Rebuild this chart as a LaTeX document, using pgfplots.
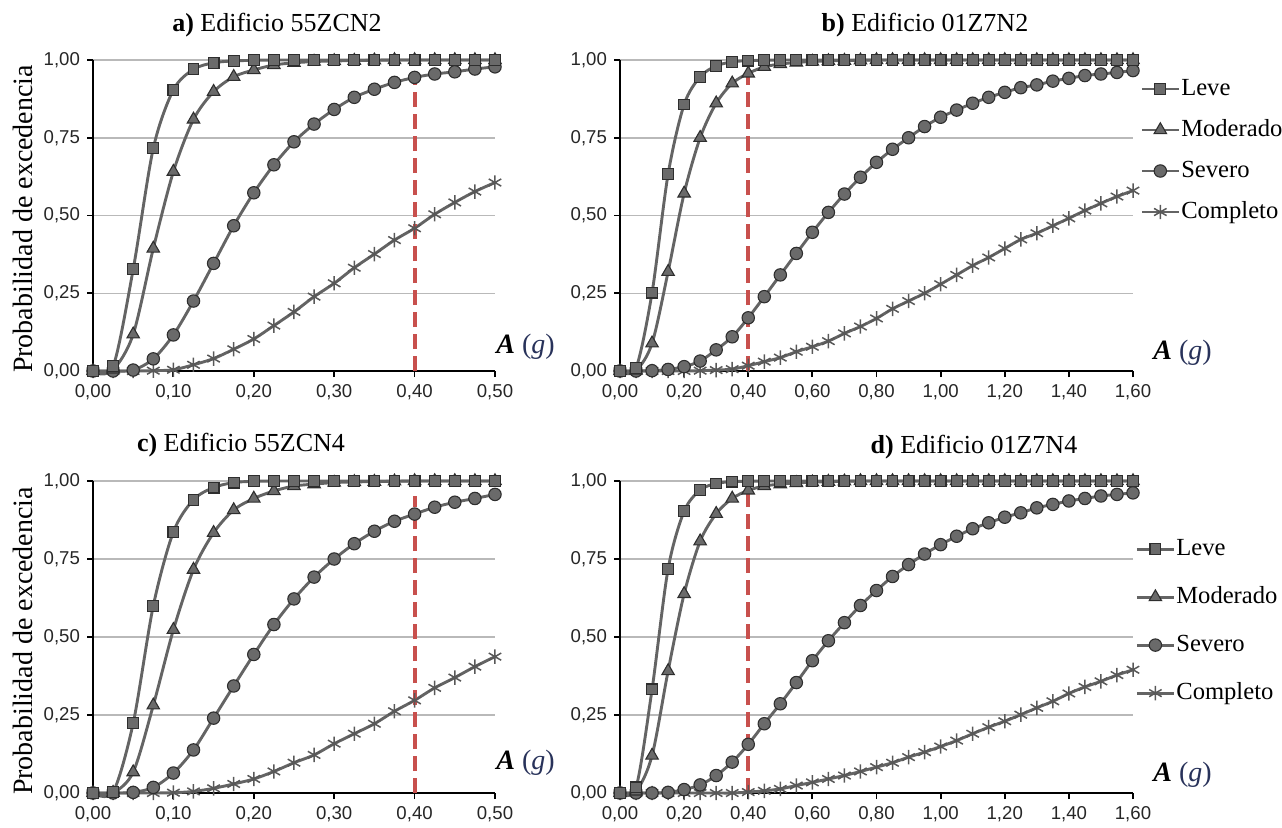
\documentclass[border=0pt]{standalone}
\usepackage{fontspec}
\setmainfont{Liberation Serif}
\newfontfamily\tickfont{Liberation Sans}
\usepackage{pgfplots}
\usepackage{pgfplotstable}
\pgfplotsset{compat=1.18}

\definecolor{linecol}{HTML}{646464}
\definecolor{markfill}{HTML}{6A6A6A}
\definecolor{markdraw}{HTML}{2E2E2E}
\definecolor{redc}{HTML}{C8504D}
\definecolor{gcol}{RGB}{40,50,90}

% Panel a
\pgfplotstableread{
x leve mod sev comp
0 0 0 0 0
0.025 0.015 0.005 0 0
0.05 0.327 0.118 0.003 0
0.075 0.716 0.394 0.039 0.001
0.1 0.904 0.641 0.116 0.004
0.125 0.970 0.809 0.225 0.020
0.15 0.991 0.898 0.346 0.040
0.175 0.997 0.946 0.467 0.070
0.2 0.999 0.968 0.573 0.103
0.225 1 0.984 0.663 0.146
0.25 1 0.991 0.737 0.190
0.275 1 0.995 0.794 0.239
0.3 1 0.997 0.841 0.282
0.325 1 0.998 0.880 0.332
0.35 1 0.999 0.906 0.376
0.375 1 1 0.928 0.421
0.4 1 1 0.944 0.459
0.425 1 1 0.955 0.504
0.45 1 1 0.962 0.542
0.475 1 1 0.971 0.577
0.5 1 1 0.978 0.606
}\tabA

% Panel c
\pgfplotstableread{
x leve mod sev comp
0 0 0 0 0
0.025 0.003 0.001 0 0
0.05 0.224 0.067 0.002 0
0.075 0.600 0.281 0.018 0
0.1 0.837 0.523 0.064 0.001
0.125 0.940 0.716 0.138 0.005
0.15 0.979 0.834 0.240 0.015
0.175 0.995 0.907 0.343 0.029
0.2 0.999 0.944 0.444 0.045
0.225 1 0.968 0.540 0.069
0.25 1 0.984 0.622 0.097
0.275 1 0.990 0.692 0.122
0.3 1 0.995 0.750 0.158
0.325 1 0.997 0.799 0.190
0.35 1 0.998 0.839 0.222
0.375 1 0.999 0.871 0.262
0.4 1 1 0.894 0.297
0.425 1 1 0.916 0.337
0.45 1 1 0.932 0.370
0.475 1 1 0.944 0.405
0.5 1 1 0.957 0.437
}\tabC

% Panel b
\pgfplotstableread{
x leve mod sev comp
0 0 0 0 0
0.05 0.010 0.002 0 0
0.1 0.252 0.089 0.001 0
0.15 0.633 0.319 0.005 0
0.2 0.857 0.571 0.014 0
0.25 0.946 0.750 0.032 0.001
0.3 0.981 0.861 0.068 0.003
0.35 0.994 0.925 0.110 0.006
0.4 0.998 0.957 0.171 0.017
0.45 0.999 0.978 0.239 0.030
0.5 1 0.987 0.309 0.043
0.55 1 0.992 0.378 0.062
0.6 1 0.995 0.446 0.078
0.65 1 0.997 0.510 0.096
0.7 1 0.998 0.569 0.121
0.75 1 0.999 0.623 0.143
0.8 1 1 0.671 0.169
0.85 1 1 0.713 0.200
0.9 1 1 0.750 0.225
0.95 1 1 0.786 0.250
1.0 1 1 0.816 0.279
1.05 1 1 0.839 0.309
1.1 1 1 0.861 0.339
1.15 1 1 0.880 0.365
1.2 1 1 0.896 0.394
1.25 1 1 0.911 0.423
1.3 1 1 0.920 0.443
1.35 1 1 0.932 0.467
1.4 1 1 0.941 0.491
1.45 1 1 0.950 0.516
1.5 1 1 0.955 0.539
1.55 1 1 0.960 0.561
1.6 1 1 0.966 0.580
}\tabB

% Panel d
\pgfplotstableread{
x leve mod sev comp
0 0 0 0 0
0.05 0.018 0.005 0 0
0.1 0.332 0.120 0 0
0.15 0.718 0.391 0.002 0
0.2 0.903 0.638 0.011 0
0.25 0.971 0.807 0.026 0
0.3 0.992 0.895 0.056 0
0.35 0.998 0.944 0.099 0
0.4 0.999 0.970 0.156 0.003
0.45 1 0.984 0.222 0.007
0.5 1 0.990 0.286 0.013
0.55 1 0.994 0.354 0.024
0.6 1 0.996 0.424 0.034
0.65 1 0.998 0.488 0.045
0.7 1 0.999 0.546 0.056
0.75 1 1 0.601 0.069
0.8 1 1 0.649 0.083
0.85 1 1 0.694 0.097
0.9 1 1 0.732 0.115
0.95 1 1 0.766 0.131
1.0 1 1 0.796 0.149
1.05 1 1 0.823 0.168
1.1 1 1 0.847 0.190
1.15 1 1 0.866 0.211
1.2 1 1 0.884 0.230
1.25 1 1 0.898 0.251
1.3 1 1 0.914 0.273
1.35 1 1 0.925 0.294
1.4 1 1 0.936 0.319
1.45 1 1 0.944 0.340
1.5 1 1 0.952 0.358
1.55 1 1 0.957 0.378
1.6 1 1 0.962 0.395
}\tabD

\pgfplotsset{
  fragil/.style={
    scale only axis, anchor=south west,
    xmin=0, ymin=0, ymax=1,
    axis x line*=bottom, axis y line*=left,
    axis line style={black, line width=0.9pt},
    ytick={0,0.25,0.5,0.75,1},
    ymajorgrids, grid style={gray!55, line width=0.75pt},
    tick style={black, line width=0.9pt},
    tick align=outside, major tick length=3pt,
    clip=false,
    ticklabel style={font=\tickfont\fontsize{9.3}{10}\selectfont, text=black!85},
    /pgf/number format/fixed,
    /pgf/number format/fixed zerofill,
    /pgf/number format/precision=2,
    /pgf/number format/use comma,
    /pgf/number format/assume math mode=true,
    legend image code/.code={\draw[mark repeat=2,mark phase=2] plot coordinates {(0pt,0pt)(9.25pt,0pt)(18.5pt,0pt)};},
  },
  base/.style={smooth, color=linecol, line width=1.45pt, mark options={solid, fill=markfill, draw=markdraw, line width=0.55pt}},
  leve/.style={base, mark=square*, mark size=2.7pt},
  mode/.style={base, mark=triangle*, mark size=3.6pt},
  seve/.style={base, mark=*, mark size=3.1pt},
  comp/.style={base, mark=asterisk, mark size=3.6pt, mark options={solid, draw=markdraw!80, line width=0.75pt}},
  redl/.style={forget plot, color=redc, line width=2pt, dash pattern=on 7.5pt off 3.5pt},
  leg/.style={legend style={at={(#1)}, anchor=west, draw=none, fill=none, inner sep=0pt,
      font=\fontsize{12.3}{12}\selectfont, legend cell align=left,
      nodes={inner sep=0.5pt, text height=8pt, text depth=2pt, anchor=west}}},
}

\begin{document}
\begin{tikzpicture}
\useasboundingbox (0,0) rectangle (641pt,413.5pt);

% a
\begin{axis}[fragil, at={(46.5pt,228pt)}, width=201pt, height=155.5pt,
  xmax=0.5, xtick={0,0.1,0.2,0.3,0.4,0.5}]
\addplot[comp] table[x=x,y=comp] {\tabA};
\addplot[seve] table[x=x,y=sev] {\tabA};
\addplot[mode] table[x=x,y=mod] {\tabA};
\addplot[leve] table[x=x,y=leve] {\tabA};
\addplot[redl] coordinates {(0.4,0) (0.4,0.945)};
\end{axis}

% b
\begin{axis}[fragil, at={(310pt,228pt)}, width=256.5pt, height=155.5pt,
  xmax=1.6, xtick={0,0.2,0.4,0.6,0.8,1.0,1.2,1.4,1.6},
  leg={1.0136,0.709}, legend style={row sep=9.5pt}, reverse legend]
\addplot[comp] table[x=x,y=comp] {\tabB};
\addplot[seve] table[x=x,y=sev] {\tabB};
\addplot[mode] table[x=x,y=mod] {\tabB};
\addplot[leve] table[x=x,y=leve] {\tabB};
\addplot[redl] coordinates {(0.4,0) (0.4,0.99)};
\legend{Completo,Severo,Moderado,Leve}
\end{axis}

% c
\begin{axis}[fragil, at={(46.5pt,17pt)}, width=201pt, height=156pt,
  xmax=0.5, xtick={0,0.1,0.2,0.3,0.4,0.5}]
\addplot[comp] table[x=x,y=comp] {\tabC};
\addplot[seve] table[x=x,y=sev] {\tabC};
\addplot[mode] table[x=x,y=mod] {\tabC};
\addplot[leve] table[x=x,y=leve] {\tabC};
\addplot[redl] coordinates {(0.4,0) (0.4,0.952)};
\end{axis}

% d
\begin{axis}[fragil, at={(310pt,17pt)}, width=256.5pt, height=156pt,
  xmax=1.6, xtick={0,0.2,0.4,0.6,0.8,1.0,1.2,1.4,1.6},
  leg={1.004,0.551}, legend style={row sep=13pt}, reverse legend]
\addplot[comp] table[x=x,y=comp] {\tabD};
\addplot[seve] table[x=x,y=sev] {\tabD};
\addplot[mode] table[x=x,y=mod] {\tabD};
\addplot[leve] table[x=x,y=leve] {\tabD};
\addplot[redl] coordinates {(0.4,0) (0.4,0.99)};
\legend{Completo,Severo,Moderado,Leve}
\end{axis}

% titles
\begin{scope}[every node/.style={font=\fontsize{13}{13}\selectfont}]
\node at (138.5pt,401pt) {\textbf{a)} Edificio 55ZCN2};
\node at (462.5pt,401pt) {\textbf{b)} Edificio 01Z7N2};
\node at (120.5pt,191pt) {\textbf{c)} Edificio 55ZCN4};
\node at (487pt,190pt) {\textbf{d)} Edificio 01Z7N4};
\node[rotate=90, font=\fontsize{14}{14}\selectfont] at (11.5pt,304pt) {Probabilidad de excedencia};
\node[rotate=90, font=\fontsize{14}{14}\selectfont] at (11.5pt,93pt) {Probabilidad de excedencia};
\node[font=\fontsize{14}{14}\selectfont] at (262.75pt,240pt) {\textbf{\textit{A}} \textcolor{gcol}{(\textit{g})}};
\node[font=\fontsize{14}{14}\selectfont] at (262.75pt,32pt) {\textbf{\textit{A}} \textcolor{gcol}{(\textit{g})}};
\node[font=\fontsize{14}{14}\selectfont] at (591.25pt,237pt) {\textbf{\textit{A}} \textcolor{gcol}{(\textit{g})}};
\node[font=\fontsize{14}{14}\selectfont] at (591.25pt,26pt) {\textbf{\textit{A}} \textcolor{gcol}{(\textit{g})}};
\end{scope}
\end{tikzpicture}
\end{document}
